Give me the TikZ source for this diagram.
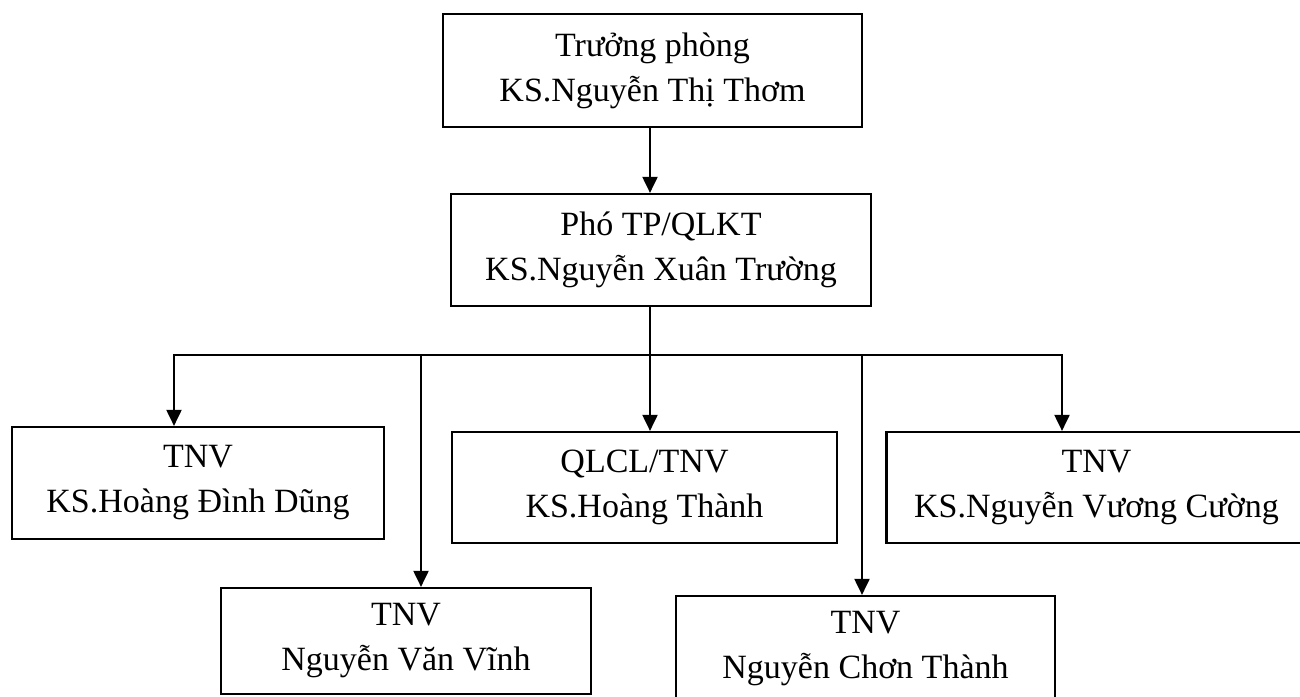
\documentclass[tikz,border=0pt]{standalone}
\usepackage{fontspec}
\setmainfont{Liberation Serif}
\usetikzlibrary{arrows.meta}
\begin{document}
\begin{tikzpicture}[x=1pt,y=-1pt,
  box/.style={draw, line width=2.2pt, inner sep=0pt, align=center,
    font=\fontsize{34}{45}\selectfont},
  arr/.style={line width=2pt, -{Triangle[length=16pt,width=15pt]}},
  ln/.style={line width=2pt}]
\useasboundingbox (0,0) rectangle (1300,696);
\fill[white] (0,0) rectangle (1300,696);
\clip (0,0) rectangle (1300,696);
\node[box, minimum width=419pt, minimum height=113pt] (top) at (652.5,70.5) {Trưởng phòng\\KS.Nguyễn Thị Thơm};
\node[box, minimum width=420pt, minimum height=112pt] (pho) at (661,250) {Phó TP/QLKT\\KS.Nguyễn Xuân Trường};
\node[box, minimum width=372pt, minimum height=112pt] (dung) at (198,483) {TNV\\KS.Hoàng Đình Dũng};
\node[box, minimum width=385pt, minimum height=111pt] (thanh) at (644.5,487.5) {QLCL/TNV\\KS.Hoàng Thành};
\node[box, minimum width=420pt, minimum height=111pt] (cuong) at (1096.5,487.5) {TNV\\KS.Nguyễn Vương Cường};
\node[box, minimum width=370pt, minimum height=106pt] (vinh) at (406,641) {TNV\\Nguyễn Văn Vĩnh};
\node[box, minimum width=379pt, minimum height=105pt] (chon) at (865.5,648.5) {TNV\\Nguyễn Chơn Thành};
\coordinate (hub) at (650,355);
\coordinate (j1) at (174,355);
\coordinate (j2) at (421,355);
\coordinate (j4) at (862,355);
\coordinate (j5) at (1062,355);
\draw[arr] (top.south -| hub) -- (pho.north -| hub);
\draw[ln] (pho.south -| hub) -- (hub);
\draw[ln, line cap=rect] (j1) -- (j5);
\draw[arr] (j1) -- (j1 |- dung.north);
\draw[arr] (j2) -- (j2 |- vinh.north);
\draw[arr] (hub) -- (hub |- thanh.north);
\draw[arr] (j4) -- (j4 |- chon.north);
\draw[arr] (j5) -- (j5 |- cuong.north);
\end{tikzpicture}
\end{document}
